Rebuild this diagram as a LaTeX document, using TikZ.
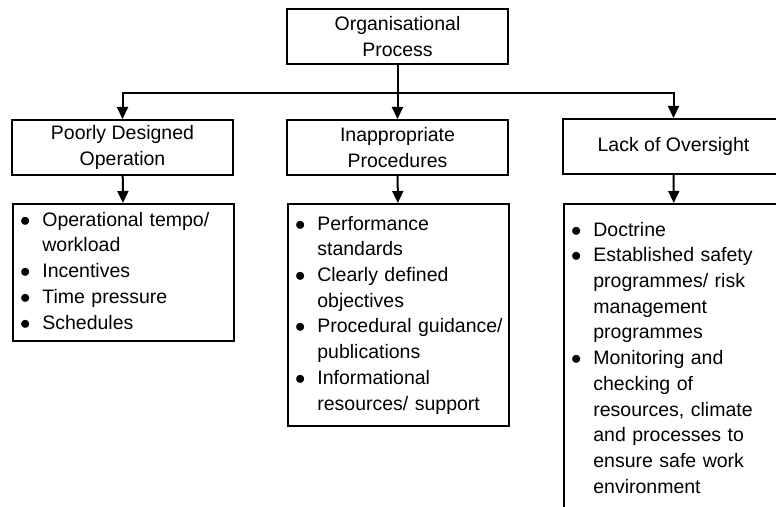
\documentclass[tikz,border=0pt]{standalone}
\usepackage{fontspec}
\setmainfont{Liberation Sans}
\usepackage{tikz}
\usetikzlibrary{arrows.meta}
\newcommand{\boxfont}{\fontsize{19.5bp}{25.7bp}\selectfont}
\newcommand{\pointrows}[1]{\noindent\begin{tabular}{@{}l@{\hspace{12bp}}l@{}}#1\end{tabular}}
\tikzset{
  hdrbox/.style={rectangle, draw=black, line width=2bp, align=center,
                 minimum width=221bp, minimum height=55bp, inner sep=0pt, font=\boxfont},
  listbox/.style={rectangle, draw=black, line width=2bp, align=left,
                  text width=207bp, inner xsep=7bp, inner ysep=0pt, font=\boxfont},
  feed/.style={-{Triangle[length=12bp,width=11bp]}, line width=2bp},
}
\begin{document}
\begin{tikzpicture}[x=1bp,y=-1bp]
  \path[use as bounding box] (0,0) rectangle (776,507);
  \clip (0,0) rectangle (776,507);
  \coordinate (bus) at (0,93);
  \node[hdrbox] (orgproc) at (397.5,36.5) {Organisational\\Process};
  \node[hdrbox] (hdrpoor) at (122.5,147.5) {Poorly Designed\\Operation};
  \node[hdrbox] (hdrproc) at (397.5,147.5) {Inappropriate\\Procedures};
  \node[hdrbox] (hdrover) at (673.5,146.5) {Lack of Oversight};
  \node[listbox, minimum height=137bp, anchor=north west] (lstpoor) at (12,203) {\pointrows{
    $\bullet$ & Operational tempo/\\ & workload\\
    $\bullet$ & Incentives\\
    $\bullet$ & Time pressure\\
    $\bullet$ & Schedules}};
  \node[listbox, minimum height=222bp, anchor=north west] (lstproc) at (287,203) {\pointrows{
    $\bullet$ & Performance\\ & standards\\
    $\bullet$ & Clearly defined\\ & objectives\\
    $\bullet$ & Procedural guidance/\\ & publications\\
    $\bullet$ & Informational\\ & resources/ support}};
  \node[listbox, minimum height=311bp, anchor=north west] (lstover) at (563,203) {\pointrows{
    $\bullet$ & Doctrine\\
    $\bullet$ & Established safety\\ & programmes/ risk\\ & management\\ & programmes\\
    $\bullet$ & Monitoring and\\ & checking of\\ & resources, climate\\ & and processes to\\ & ensure safe work\\ & environment}};
  \draw[feed] (orgproc) -- (hdrproc);
  \draw[{Triangle[length=12bp,width=11bp]}-{Triangle[length=12bp,width=11bp]}, line width=2bp]
    (hdrpoor.north) -- (hdrpoor.north |- bus) -| (hdrover.north);
  \draw[feed] (hdrpoor) -- (lstpoor);
  \draw[feed] (hdrproc) -- (lstproc);
  \draw[feed] (hdrover) -- (lstover);
\end{tikzpicture}
\end{document}
